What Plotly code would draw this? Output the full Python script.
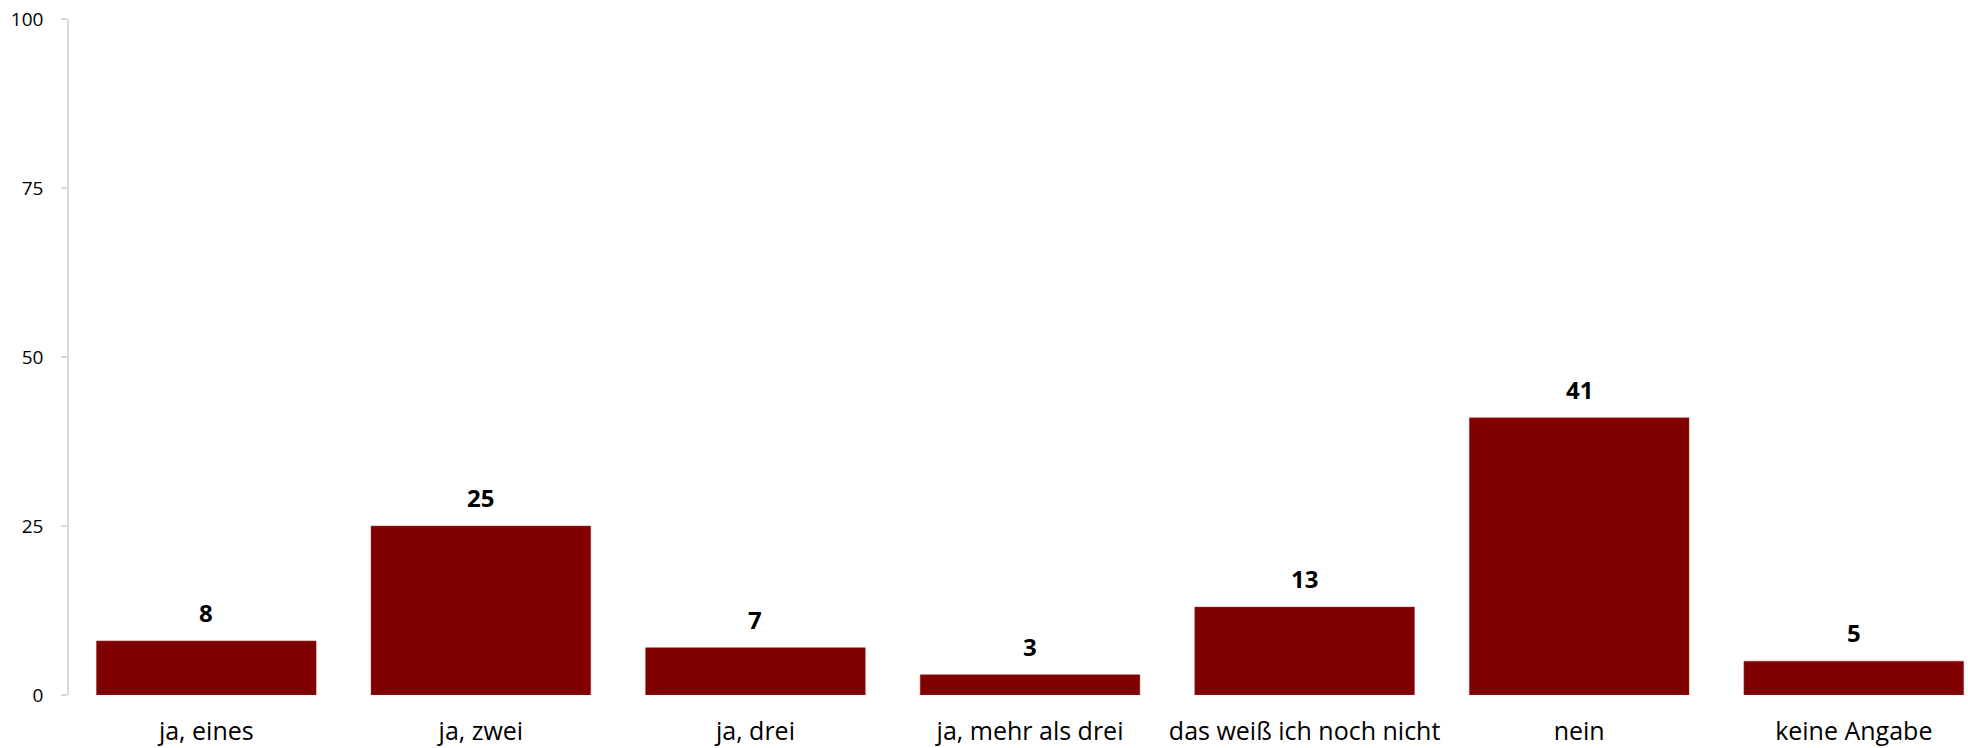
import plotly.graph_objects as go

# Data
categories = ['ja, eines', 'ja, zwei', 'ja, drei', 'ja, mehr als drei',
              'das weiß ich noch nicht', 'nein', 'keine Angabe']
values = [8, 25, 7, 3, 13, 41, 5]
y_ticks = [0, 25, 50, 75, 100]

BAR_COLOR = '#800000'
FONT = 'Open Sans'

fig = go.Figure()

fig.add_trace(go.Bar(
    x=list(range(len(categories))),
    y=values,
    marker=dict(color=BAR_COLOR, line=dict(color='#a03030', width=0.5)),
    width=0.8,
    hovertemplate='%{text}: %{y}<extra></extra>',
    text=categories,
    textposition='none',
))

# Bold value labels above each bar
for i, v in enumerate(values):
    fig.add_annotation(
        x=i, y=v, text=f'<b>{v}</b>', showarrow=False,
        yanchor='bottom', yshift=10,
        font=dict(family=FONT, size=24, color='#000000'),
    )

fig.update_layout(
    width=1968,
    height=748,
    margin=dict(l=69, r=0, t=19, b=53),
    plot_bgcolor='white',
    paper_bgcolor='white',
    showlegend=False,
    font=dict(family=FONT, color='#000000'),
)

fig.update_xaxes(
    tickmode='array',
    tickvals=list(range(len(categories))),
    ticktext=categories,
    range=[-0.5, 6.416],
    showline=False,
    showgrid=False,
    zeroline=False,
    ticks='outside',
    ticklen=14,
    tickcolor='rgba(0,0,0,0)',
    tickfont=dict(family=FONT, size=25, color='#000000'),
    automargin=False,
)

fig.update_yaxes(
    range=[0, 100],
    tickvals=y_ticks,
    showline=True,
    linecolor='#d9d9d9',
    linewidth=1.5,
    showgrid=False,
    zeroline=False,
    ticks='outside',
    ticklen=6,
    tickcolor='#d9d9d9',
    tickwidth=1.5,
    ticklabelstandoff=14,
    tickfont=dict(family=FONT, size=19, color='#000000'),
    automargin=False,
)

# drop the default page margin so the figure sits at the window's corner
fig.write_html('out.html', config={'displayModeBar': False},
               post_script="document.body.style.margin='0';")
